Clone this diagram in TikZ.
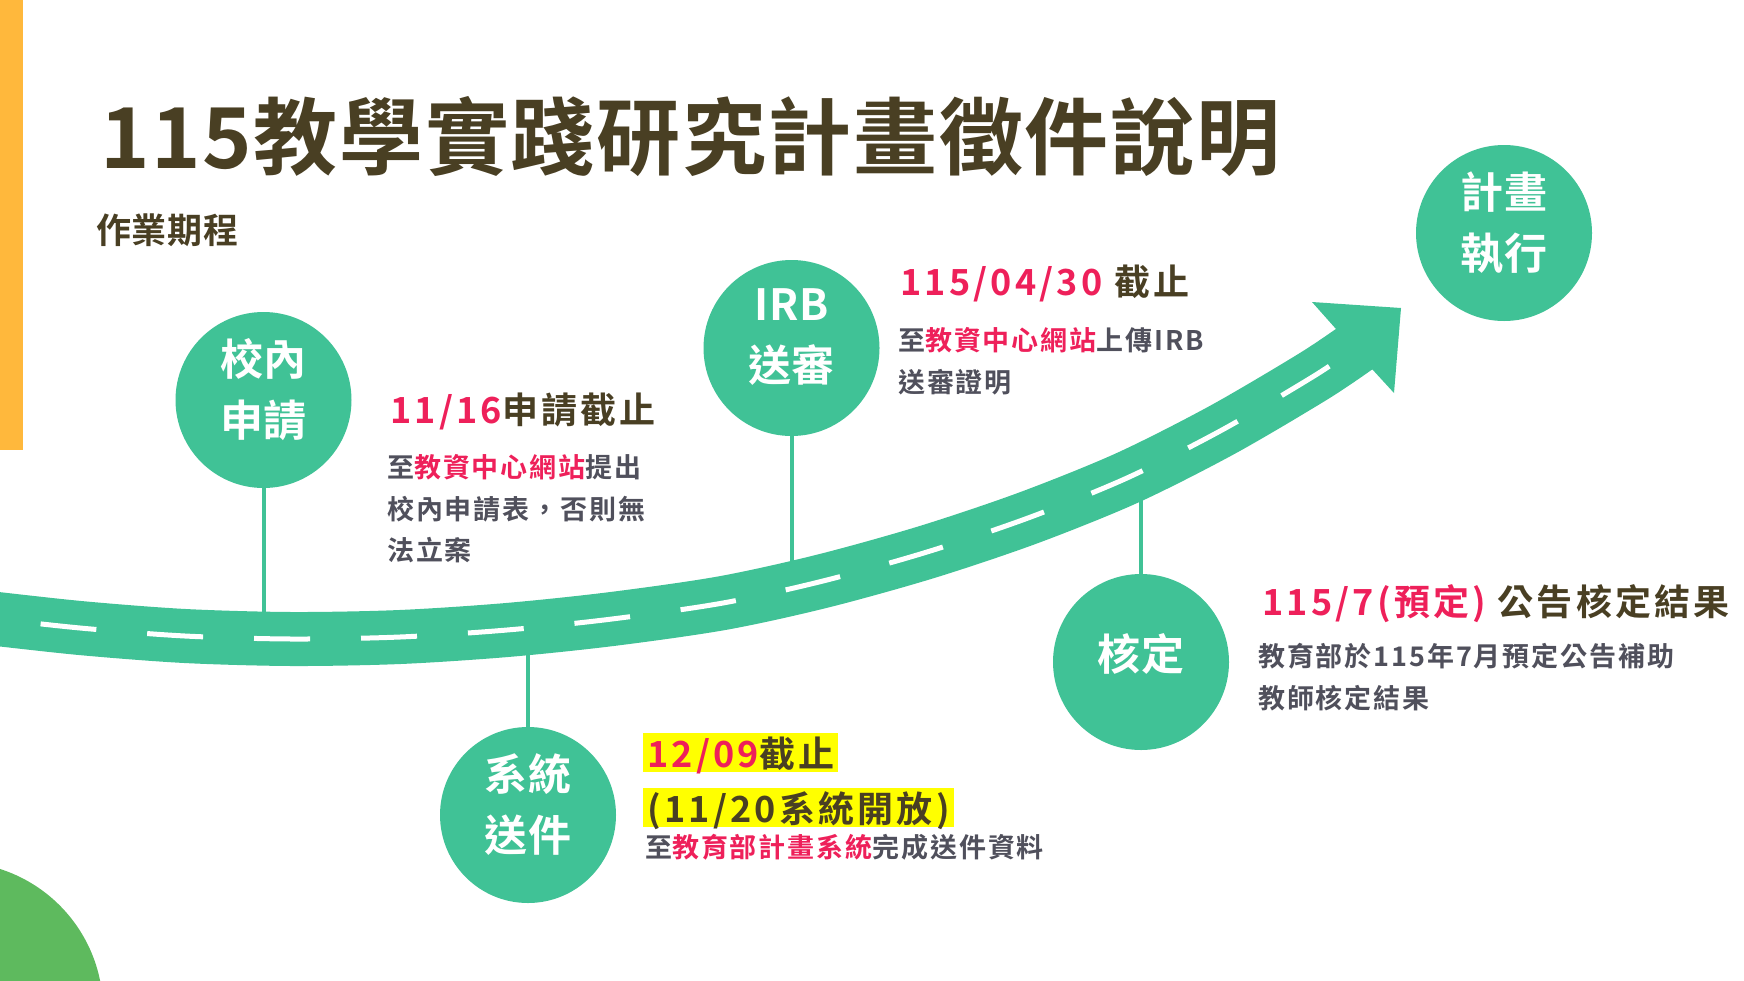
\documentclass[tikz,border=0pt]{standalone}
\usepackage{fontspec}
\setmainfont{Noto Sans CJK TC}
\newfontfamily\titlefont{Noto Sans CJK TC Bold}[LetterSpace=2]
\newfontfamily\datefont{Noto Sans CJK TC Bold}[LetterSpace=9]
\newfontfamily\notefont{Noto Sans CJK TC Bold}[LetterSpace=7]
\definecolor{roadgreen}{RGB}{64,194,150}
\definecolor{blobgreen}{RGB}{94,186,94}
\definecolor{barorange}{RGB}{255,184,60}
\definecolor{titlebrown}{RGB}{73,63,35}
\definecolor{notegray}{RGB}{80,80,92}
\definecolor{datered}{RGB}{238,32,90}
\definecolor{hlyellow}{RGB}{255,255,0}
\newcommand{\redtxt}[1]{\textcolor{datered}{#1}}
\begin{document}
\begin{tikzpicture}[x=1pt,y=-1pt,
    stop/.style={circle,fill=roadgreen,minimum size=176pt,inner sep=0pt},
    stoplbl/.style={text=white,align=center,yshift=10.5pt,font=\titlefont\fontsize{43}{61}\selectfont},
    stem/.style={draw=roadgreen,line width=4pt},
    road/.style={draw=roadgreen,line width=54pt},
    datetxt/.style={anchor=base west,inner sep=0pt,text=titlebrown,font=\datefont\fontsize{36}{42}\selectfont},
    notetxt/.style={anchor=north west,inner sep=0pt,align=left,text=notegray,font=\notefont\fontsize{27}{41.5}\selectfont},
    marker/.style={fill=hlyellow,inner xsep=4pt,inner ysep=0pt,text height=34pt,text depth=5pt}]
    \useasboundingbox (0,0) rectangle (1744,980);
    \clip (0,0) rectangle (1744,980);
    \fill[barorange] (0,0) rectangle (23,450);
    \fill[blobgreen] (-45,1010) circle[radius=148pt];
    \node[anchor=base west,inner sep=0pt,text=titlebrown,font=\titlefont\fontsize{84}{90}\selectfont] (title) at (100,168) {115教學實踐研究計畫徵件說明};
    \node[anchor=base west,inner sep=0pt,text=titlebrown,font=\titlefont\fontsize{35}{40}\selectfont] (sub) at (96,243) {作業期程};
    \node[stop,label={[stoplbl]center:校內\\申請}] (apply) at (263.5,400) {};
    \node[stop,label={[stoplbl]center:IRB\\送審}] (irb) at (791.5,348) {};
    \node[stop,label={[stoplbl]center:系統\\送件}] (submit) at (528,815) {};
    \node[stop,label={[stoplbl,yshift=-2.5pt]center:核定}] (approve) at (1141,662) {};
    \node[stop,label={[stoplbl]center:計畫\\執行}] (run) at (1504,233) {};
    \coordinate (r1) at (263.5,638);
    \coordinate (r2) at (791.5,592);
    \coordinate (r3) at (528,628);
    \coordinate (r4) at (1141,472);
    \draw[stem] (apply) -- (r1);
    \draw[stem] (irb) -- (r2);
    \draw[stem] (submit) -- (r3);
    \draw[stem] (approve) -- (r4);
    \draw[road,postaction={draw=white,line width=5pt,dash pattern=on 56pt off 51pt,dash phase=46pt}]
        plot[smooth] coordinates {(-20,617) (80,628) (185,636) (292,639) (400,637) (507,630) (612,619) (723,603) (823,581) (927,552) (1028,518) (1127,478) (1222,430) (1314,376) (1360,345)};
    \fill[roadgreen] (1336,329) -- (1312,302) -- (1401,308) -- (1394,393) -- (1372,369) -- cycle;
    \node[datetxt] (d1) at (390,423) {\redtxt{11/16}申請截止};
    \node[notetxt] (n1) at (387,454.2) {至\redtxt{教資中心網站}提出\\校內申請表，否則無\\法立案};
    \node[datetxt] (d2) at (900,295) {\redtxt{115/04/30} 截止};
    \node[notetxt] (n2) at (898,327.2) {至\redtxt{教資中心網站}上傳IRB\\送審證明};
    \node[datetxt,marker] (d3) at (643,767) {\redtxt{12/09}截止};
    \node[datetxt,marker] (d3b) at (643,822) {(11/20系統開放)};
    \node[notetxt] (n3) at (645,834.2) {至\redtxt{教育部計畫系統}完成送件資料};
    \node[datetxt] (d4) at (1262,615) {\redtxt{115/7(預定)} 公告核定結果};
    \node[notetxt] (n4) at (1258,643.2) {教育部於115年7月預定公告補助\\教師核定結果};
\end{tikzpicture}
\end{document}
